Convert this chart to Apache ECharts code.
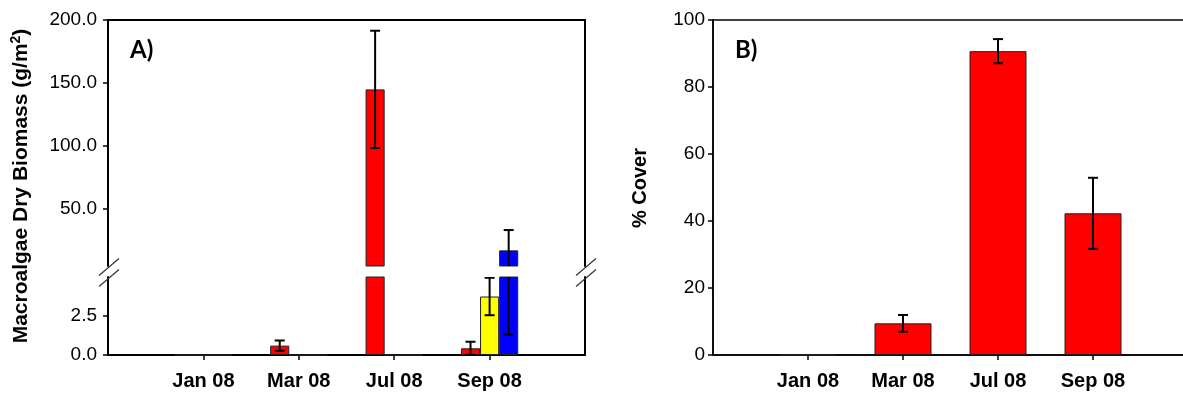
<!DOCTYPE html>
<html>
<head>
<meta charset="utf-8">
<script src="https://cdn.jsdelivr.net/npm/echarts@6/dist/echarts.min.js"></script>
<style>html,body{margin:0;padding:0;background:#fff}#c{width:1183px;height:395px}</style>
</head>
<body>
<div id="c"></div>
<script>
// ---- data ----
const categories = ['Jan 08', 'Mar 08', 'Jul 08', 'Sep 08'];
const biomassRed = [0, 0.6, 145, 0.43];
const biomassRedErr = [0, 0.33, 46.5, 0.42];
const biomassYellow = [0, 0, 0, 3.75];
const biomassYellowErr = [0, 0, 0, 1.2];
const biomassBlue = [0, 0, 0, 17.4];
const biomassBlueErr = [0, 0, 0, 16.1];
const coverRed = [0, 9.45, 90.7, 42.3];
const coverRedErr = [0, 2.5, 3.6, 10.6];
const biomassUpperTicks = [50, 100, 150, 200];
const biomassLowerTicks = [0, 2.5];
const coverTicks = [0, 20, 40, 60, 80, 100];

// ---- helpers ----
const axisCats = [''].concat(categories, ['']);
const pad = a => [null].concat(a, [null]);
const errData = (v, e) => categories.map((c, i) => [i + 1, v[i], e[i]]);
const FONT = '"Liberation Sans", Arial, sans-serif';
const COLORS = { red: '#ff0000', yellow: '#ffff00', blue: '#0000ff' };

function errRender(offsetSlots, widthFrac, capHalf, lo, hi) {
  return function (params, api) {
    const xi = api.value(0), v = api.value(1), e = api.value(2);
    if (!e) return null;
    const band = api.size([1, 0])[0];
    const x = api.coord([xi, v])[0] + offsetSlots * band * widthFrac;
    const yt = api.coord([xi, v + e])[1];
    const yb = api.coord([xi, v - e])[1];
    const st = { stroke: '#000', lineWidth: 2 };
    const kids = [{ type: 'line', shape: { x1: x, y1: yt, x2: x, y2: yb }, style: st }];
    const inRange = val => val >= lo && val <= hi;
    if (inRange(v + e)) kids.push({ type: 'line', shape: { x1: x - capHalf, y1: yt, x2: x + capHalf, y2: yt }, style: st });
    if (inRange(v - e)) kids.push({ type: 'line', shape: { x1: x - capHalf, y1: yb, x2: x + capHalf, y2: yb }, style: st });
    return { type: 'group', children: kids };
  };
}

const blackLine = { show: true, lineStyle: { color: '#000', width: 2 } };
const tickStyle = { show: true, inside: false, length: 5, lineStyle: { color: '#000', width: 1.5 } };
const tickLabel = { color: '#000', fontFamily: FONT, fontSize: 19, margin: 11 };
const catLabel = { show: true, interval: 0, color: '#000', fontFamily: FONT, fontSize: 20, fontWeight: 'bold', margin: 16 };
const inner = (i) => i > 0 && i < axisCats.length - 1;

const UPPER = [5, 200], LOWER = [0, 5], COVER = [0, 100];

const grids = [
  { left: 108, top: 20, width: 477, height: 246, outerBoundsMode: 'none' },
  { left: 108, top: 277, width: 477, height: 78, outerBoundsMode: 'none' },
  { left: 713, top: 20, width: 475, height: 335, outerBoundsMode: 'none', show: true, borderColor: '#000', borderWidth: 1.5 }
];

const xAxes = [
  { gridIndex: 0, type: 'category', data: axisCats, boundaryGap: false, position: 'top',
    axisLine: blackLine, axisTick: { show: false }, axisLabel: { show: false } },
  { gridIndex: 1, type: 'category', data: axisCats, boundaryGap: false, position: 'bottom',
    axisLine: blackLine, axisTick: Object.assign({}, tickStyle, { interval: inner }), axisLabel: catLabel },
  { gridIndex: 2, type: 'category', data: axisCats, boundaryGap: false, position: 'bottom',
    axisLine: { show: true, lineStyle: { color: '#000', width: 1.5 } },
    axisTick: Object.assign({}, tickStyle, { interval: inner }), axisLabel: catLabel }
];

const yAxes = [
  { gridIndex: 0, type: 'value', min: UPPER[0], max: UPPER[1], position: 'left', splitLine: { show: false },
    axisLine: blackLine,
    axisTick: Object.assign({}, tickStyle, { customValues: biomassUpperTicks }),
    axisLabel: Object.assign({}, tickLabel, { customValues: biomassUpperTicks, formatter: v => Number(v).toFixed(1) }) },
  { gridIndex: 0, type: 'value', min: UPPER[0], max: UPPER[1], position: 'right', splitLine: { show: false },
    axisLine: blackLine, axisTick: { show: false }, axisLabel: { show: false } },
  { gridIndex: 1, type: 'value', min: LOWER[0], max: LOWER[1], position: 'left', splitLine: { show: false },
    axisLine: blackLine,
    axisTick: Object.assign({}, tickStyle, { customValues: biomassLowerTicks }),
    axisLabel: Object.assign({}, tickLabel, { customValues: biomassLowerTicks, formatter: v => Number(v).toFixed(1) }) },
  { gridIndex: 1, type: 'value', min: LOWER[0], max: LOWER[1], position: 'right', splitLine: { show: false },
    axisLine: blackLine, axisTick: { show: false }, axisLabel: { show: false } },
  { gridIndex: 2, type: 'value', min: COVER[0], max: COVER[1], interval: 20, position: 'left', splitLine: { show: false },
    axisLine: { show: true, lineStyle: { color: '#000', width: 1.5 } },
    axisTick: tickStyle, axisLabel: Object.assign({}, tickLabel, { margin: 8 }) }
];

const series = [];
const groups = [
  { vals: biomassRed, errs: biomassRedErr, color: COLORS.red, slot: -1 },
  { vals: biomassYellow, errs: biomassYellowErr, color: COLORS.yellow, slot: 0 },
  { vals: biomassBlue, errs: biomassBlueErr, color: COLORS.blue, slot: 1 }
];
[[0, 0, UPPER], [1, 2, LOWER]].forEach(([xi, yi, ext]) => {
  groups.forEach(g => {
    series.push({
      type: 'bar', xAxisIndex: xi, yAxisIndex: yi, data: pad(g.vals), clip: true,
      barWidth: '20%', barGap: '0%', animation: false,
      itemStyle: { color: g.color, borderColor: '#222', borderWidth: 1 }
    });
  });
  groups.forEach(g => {
    series.push({
      type: 'custom', xAxisIndex: xi, yAxisIndex: yi, data: errData(g.vals, g.errs),
      encode: { x: 0, y: 1 }, clip: true, z: 5, animation: false,
      renderItem: errRender(g.slot, 0.2, 5, ext[0], ext[1])
    });
  });
});
series.push({
  type: 'bar', xAxisIndex: 2, yAxisIndex: 4, data: pad(coverRed), barWidth: '60%', animation: false,
  itemStyle: { color: COLORS.red, borderColor: '#222', borderWidth: 1 }
});
series.push({
  type: 'custom', xAxisIndex: 2, yAxisIndex: 4, data: errData(coverRed, coverRedErr),
  encode: { x: 0, y: 1 }, clip: true, z: 5, animation: false,
  renderItem: errRender(0, 0.6, 5, COVER[0], COVER[1])
});

// axis-break marks (decoration)
function breakMarks(x) {
  const st = { stroke: '#333', lineWidth: 1.2 };
  return [
    { type: 'line', shape: { x1: x - 9, y1: 275.5, x2: x + 11, y2: 258.5 }, style: st, z: 100 },
    { type: 'line', shape: { x1: x - 9, y1: 286.5, x2: x + 11, y2: 269.5 }, style: st, z: 100 }
  ];
}

const option = {
  animation: false,
  backgroundColor: '#fff',
  grid: grids,
  xAxis: xAxes,
  yAxis: yAxes,
  series: series,
  graphic: [].concat(breakMarks(108), breakMarks(585), [
    { type: 'text', left: 130, top: 38, style: { text: 'A)', font: 'bold 24px Lato, "Open Sans", sans-serif', fill: '#000' } },
    { type: 'text', left: 735, top: 38, style: { text: 'B)', font: 'bold 24px Lato, "Open Sans", sans-serif', fill: '#000' } },
    { type: 'text', x: 21, y: 186, rotation: Math.PI / 2,
      style: { text: '{a|Macroalgae Dry Biomass (g/m}{s|2}{a|)}', align: 'center', verticalAlign: 'middle',
        rich: {
          a: { fontFamily: FONT, fontWeight: 'bold', fontSize: 21, fill: '#000', color: '#000', lineHeight: 24 },
          s: { fontFamily: FONT, fontWeight: 'bold', fontSize: 14, fill: '#000', color: '#000', verticalAlign: 'top', lineHeight: 24 }
        } } },
    { type: 'text', x: 640, y: 188, rotation: Math.PI / 2,
      style: { text: '% Cover', align: 'center', verticalAlign: 'middle', font: 'bold 20px "Liberation Sans", Arial, sans-serif', fill: '#000' } }
  ])
};

const chart = echarts.init(document.getElementById('c'), null, { renderer: 'canvas' });
chart.setOption(option);
</script>
</body>
</html>
